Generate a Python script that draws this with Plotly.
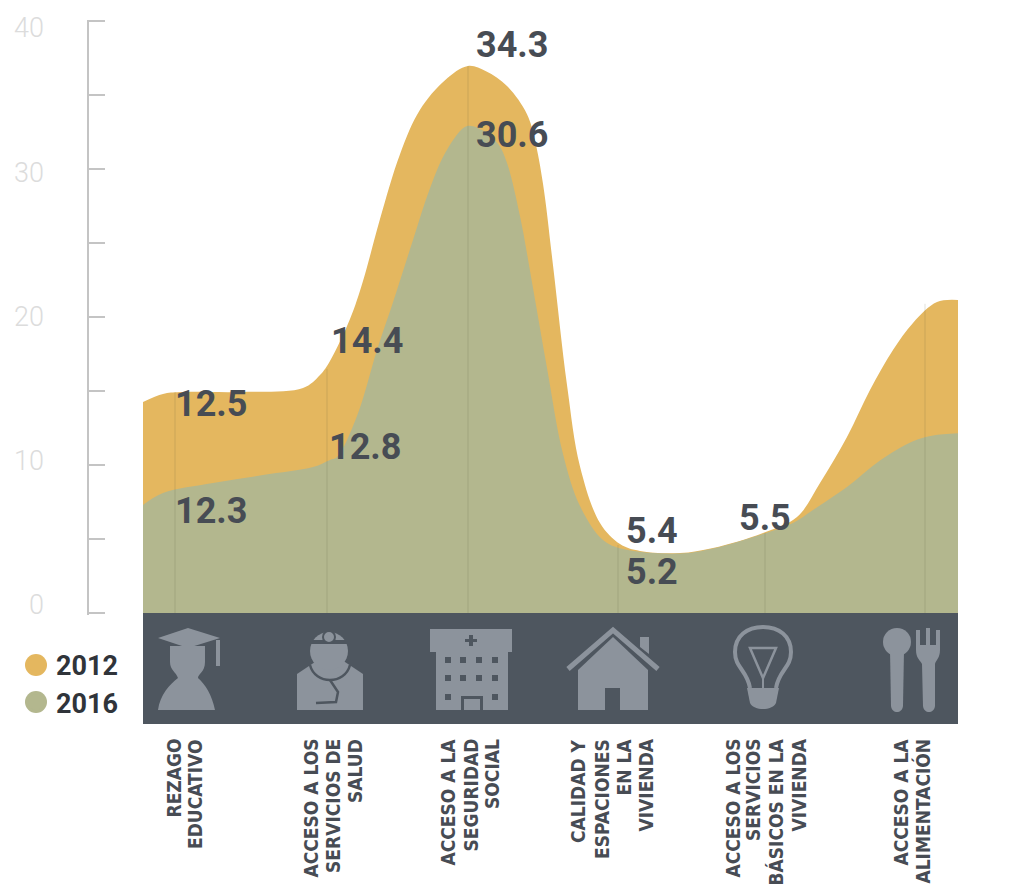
import plotly.graph_objects as go

OFF = 8
W, H = 1036 - OFF, 886 - OFF
years = ["2012", "2016"]
curve_x_2012 = [0, 20, 37, 97, 160, 177, 187, 207, 220, 237, 257, 277, 302, 325, 343, 364, 384, 392, 400, 410, 424, 437, 457, 477, 497, 537, 570, 620, 654, 677, 704, 727, 750, 770, 794, 815]
curve_2012 = [14.26, 14.8, 14.93, 14.93, 15.2, 16.08, 17.03, 19.86, 22.43, 26.62, 31.0, 34.0, 36.0, 36.96, 36.6, 35.6, 33.7, 31.9, 29.0, 23.5, 15.4, 9.9, 6.08, 4.66, 4.19, 4.05, 4.39, 5.41, 6.49, 8.78, 11.89, 15.07, 17.77, 19.6, 21.01, 21.15]
curve_x_2016 = [0, 20, 70, 120, 170, 187, 194, 214, 234, 250, 270, 287, 304, 324, 340, 355, 364, 377, 390, 404, 420, 437, 460, 480, 537, 570, 620, 650, 670, 704, 737, 770, 790, 815]
curve_2016 = [7.3, 8.11, 8.78, 9.32, 9.86, 10.34, 10.54, 13.31, 17.77, 21.0, 25.2, 28.7, 31.3, 32.9, 32.6, 31.7, 30.4, 26.8, 21.96, 16.55, 10.74, 7.23, 4.93, 4.32, 4.02, 4.36, 5.34, 6.08, 6.96, 8.51, 10.3, 11.6, 12.0, 12.15]
cat_x = [32, 184, 325, 475, 622, 782]
cat_top = [14.9, 16.5, 36.96, 4.6, 5.41, 20.9]
labels_text = ["34.3", "30.6", "14.4", "12.8", "12.5", "12.3", "5.4", "5.2", "5.5", "21.2", "16.1"]
labels_x = [369, 369, 224, 222, 68, 68, 509, 509, 622, 855, 852]
labels_y = [38.4, 32.3, 18.4, 11.2, 14.1, 6.9, 5.55, 2.8, 6.4, 21.6, 11.9]
y_ticks = [0, 5, 10, 15, 20, 25, 30, 35, 40]
y_label_vals = [0, 10, 20, 30, 40]
cat_lines = [
    ["REZAGO", "EDUCATIVO"],
    ["ACCESO A LOS", "SERVICIOS DE", "SALUD"],
    ["ACCESO A LA", "SEGURIDAD", "SOCIAL"],
    ["CALIDAD Y", "ESPACIONES", "EN LA", "VIVIENDA"],
    ["ACCESO A LOS", "SERVICIOS", "BÁSICOS EN LA", "VIVIENDA"],
    ["ACCESO A LA", "ALIMENTACIÓN"],
]
cat_line_px = [[173, 195], [310, 333, 355], [447, 470, 492], [578, 602, 623, 645], [732, 753, 775, 798], [900, 922]]

C12, C16, BAND, ICON, TXT = "#e4b75f", "#b3b78e", "#4e565f", "#8c939c", "#474c54"
px = lambda x: (x - OFF) / W
py = lambda y: 1 - (y - OFF) / H

fig = go.Figure()
fig.add_trace(go.Scatter(x=curve_x_2012, y=curve_2012, mode="lines", fill="tozeroy", fillcolor=C12,
                         line=dict(color=C12, width=0, shape="spline", smoothing=1.0), showlegend=False))
fig.add_trace(go.Scatter(x=curve_x_2016, y=curve_2016, mode="lines", fill="tozeroy", fillcolor=C16,
                         line=dict(color=C16, width=0, shape="spline", smoothing=1.0), showlegend=False))
vx, vy = [], []
for a, b in zip(cat_x, cat_top):
    vx += [a, a, None]
    vy += [0, b, None]
fig.add_trace(go.Scatter(x=vx, y=vy, mode="lines", line=dict(color="rgba(90,90,60,0.12)", width=1.5),
                         showlegend=False, hoverinfo="skip"))
fig.add_trace(go.Scatter(x=[None], y=[None], yaxis="y2", mode="lines", showlegend=False, hoverinfo="skip"))
for name, c in zip(years, [C12, C16]):
    fig.add_trace(go.Scatter(x=[None], y=[None], mode="markers", name=name,
                             marker=dict(color=c, size=23, symbol="circle")))

shapes = []


def path(cmds, fill=ICON, line=None, w=0):
    out = []
    for c in cmds:
        if isinstance(c, str):
            out.append(c)
        else:
            out.append(f"{px(c[0]):.5f},{py(c[1]):.5f}")
    shapes.append(dict(type="path", xref="paper", yref="paper", path=" ".join(out),
                       fillcolor=fill, line=dict(color=line or fill, width=w)))


def rect(x0, y0, x1, y1, fill=ICON):
    shapes.append(dict(type="rect", xref="paper", yref="paper", x0=px(x0), x1=px(x1), y0=py(y1), y1=py(y0),
                       fillcolor=fill, line=dict(width=0)))


def circ(cx, cy, r, fill=ICON, line=None, w=0):
    shapes.append(dict(type="circle", xref="paper", yref="paper", x0=px(cx - r), x1=px(cx + r), y0=py(cy + r),
                       y1=py(cy - r), fillcolor=fill, line=dict(color=line or fill, width=w)))


rect(143, 613, 958, 724, BAND)
circ(36, 665, 11, C12)
circ(36, 702, 11, C16)
# graduate
path(["M", (158, 638), "L", (188, 628), "L", (220, 638), "L", (188, 648), "Z"])
path(["M", (170, 646), "L", (205, 646), "L", (205, 662), "C", (205, 672), (198, 674), (198, 678), "C", (205, 684), (212, 695), (215, 710),
      "L", (158, 710), "C", (160, 695), (170, 684), (178, 678), "C", (176, 672), (170, 670), (170, 662), "Z"])
rect(216, 640, 220, 666)
# doctor
path(["M", (297, 710), "L", (297, 674), "L", (315, 662), "L", (345, 662), "L", (363, 674), "L", (363, 710), "Z"])
circ(329, 651, 19)
rect(311, 640, 347, 644, BAND)
circ(329, 637, 6, ICON, BAND, 2)
path(["M", (310, 665), "C", (315, 685), (345, 685), (350, 665)], fill="rgba(0,0,0,0)", line=BAND, w=2.5)
path(["M", (330, 680), "L", (338, 692), "L", (336, 702), "L", (316, 703)], fill="rgba(0,0,0,0)", line=BAND, w=2.5)
# hospital
rect(430, 629, 512, 652)
rect(436, 650, 508, 710)
rect(469, 635, 473, 646, BAND)
rect(465, 639, 477, 642, BAND)
for wy in [660, 678]:
    for wx in [448, 463, 479, 495]:
        rect(wx - 3, wy - 3, wx + 3, wy + 3, BAND)
for wx in [448, 495]:
    rect(wx - 3, 694, wx + 3, 700, BAND)
rect(461, 696, 483, 710, BAND)
rect(464, 699, 480, 710)
# house
path(["M", (578, 670), "L", (613, 637), "L", (648, 670), "L", (648, 710), "L", (578, 710), "Z"])
path(["M", (568, 669), "L", (613, 630), "L", (658, 669)], fill="rgba(0,0,0,0)", line=ICON, w=5)
path(["M", (640, 637), "L", (649, 637), "L", (649, 654), "L", (640, 647), "Z"])
rect(605, 688, 620, 710, BAND)
# bulb
path(["M", (750, 688), "C", (747, 670), (735, 668), (735, 652), "C", (735, 636), (747, 627), (763, 627), "C", (779, 627), (791, 636), (791, 652),
      "C", (791, 668), (779, 670), (776, 688)], fill="rgba(0,0,0,0)", line=ICON, w=4)
path(["M", (750, 648), "L", (776, 648), "L", (763, 678), "Z"], fill="rgba(0,0,0,0)", line=ICON, w=2.5)
rect(762, 676, 764, 690)
path(["M", (747, 688), "L", (779, 688), "L", (776, 703), "C", (772, 711), (754, 711), (750, 703), "Z"])
# spoon & fork
circ(897, 642, 14)
path(["M", (890, 650), "L", (904, 650), "L", (903, 706), "C", (902, 714), (892, 714), (891, 706), "Z"])
path(["M", (916, 630), "L", (920, 630), "L", (920, 645), "L", (926, 645), "L", (926, 628), "L", (930, 628), "L", (930, 645), "L", (936, 645), "L", (936, 630), "L", (940, 630),
      "L", (940, 650), "C", (940, 658), (936, 660), (935, 664), "L", (935, 706), "C", (934, 714), (924, 714), (923, 706), "L", (922, 664), "C", (920, 660), (916, 658), (916, 650), "Z"])

ann = []
for t, x, y in zip(labels_text, labels_x, labels_y):
    ann.append(dict(x=x, y=y, xref="x", yref="y", text=t, showarrow=False, xanchor="center", yanchor="middle",
                    font=dict(family="Roboto", size=36, color=TXT, weight=700)))
for lines, xs in zip(cat_lines, cat_line_px):
    for t, x in zip(lines, xs):
        ann.append(dict(x=px(x), y=py(737), xref="paper", yref="paper", text=t, showarrow=False, textangle=-90,
                        xanchor="center", yanchor="top",
                        font=dict(family="DejaVu Sans Condensed, Roboto", size=19, color=TXT, weight=700)))

fig.update_layout(
    width=W, height=H, margin=dict(l=0, r=0, t=0, b=0, autoexpand=False), paper_bgcolor="white",
    plot_bgcolor="rgba(0,0,0,0)",
    shapes=shapes, annotations=ann,
    xaxis=dict(domain=[px(143), px(958)], range=[0, 815], visible=False, fixedrange=True),
    yaxis=dict(domain=[py(614.5), py(19.5)], range=[-0.1, 40.1], anchor="free", position=px(88), side="left",
               tickmode="array", tickvals=y_ticks, ticks="inside", ticklen=16,
               tickcolor="#c4c4c4", tickwidth=1.5, showline=True, linecolor="#c4c4c4", linewidth=1.5,
               showgrid=False, zeroline=False, showticklabels=False),
    yaxis2=dict(domain=[py(605), py(28)], range=[0, 40], anchor="free", position=px(88), side="left",
                tickmode="array", tickvals=y_label_vals, ticks="", showline=False, showgrid=False, zeroline=False,
                ticklabelstandoff=44, ticklabeloverflow="allow",
                tickfont=dict(family="Roboto", size=27, color="#dcdcdc", weight=300)),
    legend=dict(x=px(16), y=py(640), xanchor="left", yanchor="top", bgcolor="rgba(0,0,0,0)", itemsizing="trace",
                font=dict(family="Roboto", size=27, color="#30343a", weight=700), itemclick=False, itemdoubleclick=False,
                itemwidth=30, tracegroupgap=0),
    showlegend=True,
)
fig.write_html("out.html")
